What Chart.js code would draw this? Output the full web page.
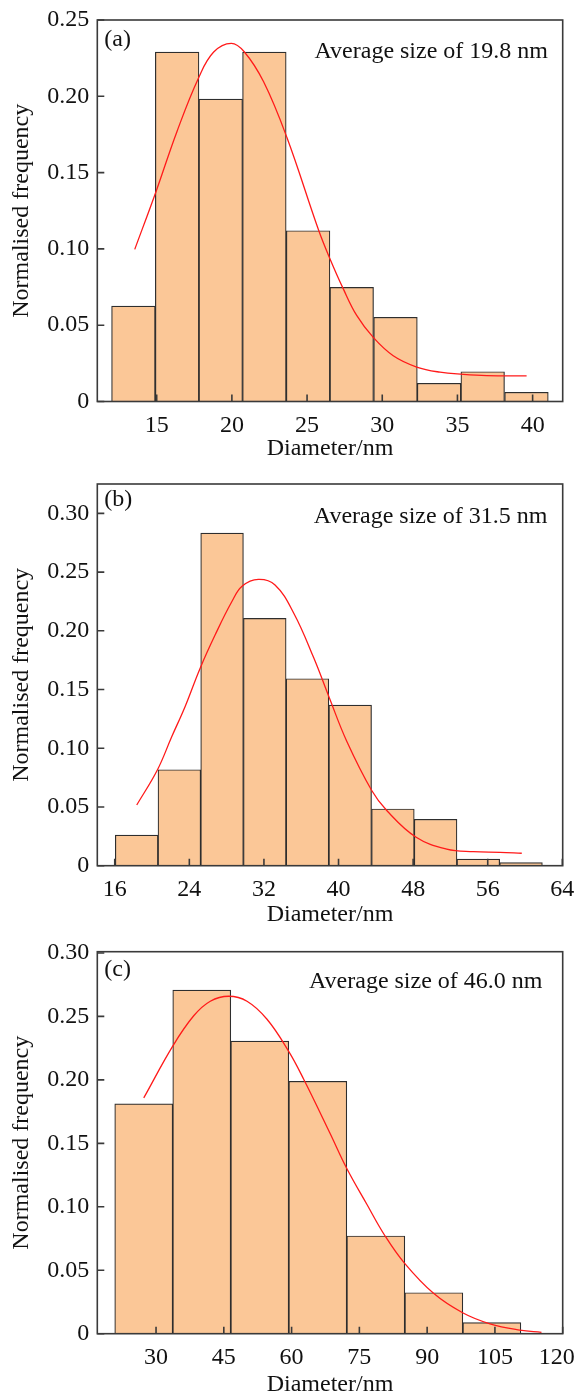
<!DOCTYPE html>
<html>
<head>
<meta charset="utf-8">
<script src="https://cdn.jsdelivr.net/npm/chart.js@4.4.1/dist/chart.umd.min.js"></script>
<style>
html,body{margin:0;padding:0;background:#ffffff;}
#wrap{position:relative;width:576px;height:1394px;overflow:hidden;}
canvas{position:absolute;left:0;}
</style>
</head>
<body>
<div id="wrap">
<canvas id="ca" width="576" height="465" style="top:0px"></canvas>
<canvas id="cb" width="576" height="465" style="top:465px"></canvas>
<canvas id="cc" width="576" height="464" style="top:930px"></canvas>
</div>
<script>
// ---------- texts ----------
const panelLabels = ['(a)', '(b)', '(c)'];
const avgTexts = ['Average size of 19.8 nm', 'Average size of 31.5 nm', 'Average size of 46.0 nm'];
const xTitle = 'Diameter/nm';
const yTitle = 'Normalised frequency';

// ---------- panel (a) ----------
const binCentersA = [13.45, 16.36, 19.26, 22.16, 25.07, 27.97, 30.88, 33.78, 36.68, 39.59];
const freqA = [0.0625, 0.2290, 0.1982, 0.2290, 0.1119, 0.0748, 0.0552, 0.0119, 0.0195, 0.0060];
const fitXA = [13.54, 14.97, 16.35, 17.79, 18.79, 19.96, 20.82, 22.11, 23.66, 25.77, 26.52, 27.41, 28.30, 29.40, 30.73, 32.29, 33.84, 35.39, 36.94, 39.60];
const fitYA = [0.0997, 0.1380, 0.1770, 0.2122, 0.2290, 0.2347, 0.2292, 0.2095, 0.1730, 0.1122, 0.0936, 0.0738, 0.0564, 0.0420, 0.0300, 0.0226, 0.0192, 0.0178, 0.0170, 0.0168];
const xTicksA = [15, 20, 25, 30, 35, 40];

// ---------- panel (b) ----------
const binCentersB = [18.35, 22.93, 27.51, 32.09, 36.67, 41.25, 45.83, 50.41, 54.99, 59.57];
const freqB = [0.0261, 0.0817, 0.2832, 0.2106, 0.1592, 0.1368, 0.0483, 0.0395, 0.0057, 0.0026];
const fitXB = [18.36, 20.57, 22.11, 23.54, 25.15, 26.76, 28.55, 29.68, 31.40, 33.19, 35.20, 37.34, 39.01, 40.88, 43.56, 45.17, 48.28, 51.60, 54.46, 57.32, 59.65];
const fitYB = [0.0517, 0.0815, 0.1098, 0.1354, 0.1680, 0.1964, 0.2247, 0.2381, 0.2438, 0.2390, 0.2150, 0.1770, 0.1430, 0.1060, 0.0640, 0.0470, 0.0245, 0.0142, 0.0119, 0.0114, 0.0106];
const xTicksB = [16, 24, 32, 40, 48, 56, 64];

// ---------- panel (c) ----------
const binCentersC = [27.28, 40.12, 52.96, 65.80, 78.64, 91.48, 104.32];
const freqC = [0.1811, 0.2707, 0.2305, 0.1989, 0.0770, 0.0323, 0.0087];
const fitXC = [27.28, 33.76, 38.34, 42.01, 46.08, 50.13, 54.56, 59.36, 62.68, 68.50, 72.19, 76.62, 80.66, 84.93, 91.35, 97.85, 103.9, 110.5, 115.3];
const fitYC = [0.1858, 0.2270, 0.2505, 0.2620, 0.2659, 0.2620, 0.2478, 0.2225, 0.2005, 0.1580, 0.1304, 0.1022, 0.0772, 0.0558, 0.0320, 0.0165, 0.0078, 0.0028, 0.0010];
const xTicksC = [30, 45, 60, 75, 90, 105, 120];

const yTicks = [0, 0.05, 0.10, 0.15, 0.20, 0.25, 0.30];

// ---------- styling ----------
const FONT = 'Liberation Serif, Times New Roman, serif';
const TXT = '#111111';
Chart.defaults.font.family = FONT;
Chart.defaults.font.size = 24;
Chart.defaults.color = TXT;

const framePlugin = {
  id: 'frame',
  afterDatasetsDraw(chart, args, o) {
    const ctx = chart.ctx;
    const a = chart.chartArea;
    ctx.save();
    ctx.strokeStyle = '#3a3a3a';
    ctx.lineWidth = 1.6;
    const xs = chart.scales.x, ys = chart.scales.y;
    ctx.beginPath();
    xs.ticks.forEach(t => {
      const px = xs.getPixelForValue(t.value);
      ctx.moveTo(px, a.bottom);
      ctx.lineTo(px, a.bottom - 7);
    });
    ys.ticks.forEach(t => {
      const py = ys.getPixelForValue(t.value);
      ctx.moveTo(a.left, py);
      ctx.lineTo(a.left + 7, py);
    });
    ctx.stroke();
    ctx.strokeRect(a.left, a.top, a.right - a.left, a.bottom - a.top);
    ctx.fillStyle = TXT;
    ctx.font = '24px ' + FONT;
    ctx.textBaseline = 'alphabetic';
    ctx.textAlign = 'left';
    ctx.fillText(o.label, a.left + 7, a.top + o.labelDy);
    ctx.textAlign = 'right';
    ctx.fillText(o.avg, o.avgRight, a.top + o.avgDy);
    ctx.restore();
  }
};

function makeChart(id, cfg) {
  new Chart(document.getElementById(id), {
    type: 'bar',
    data: {
      datasets: [
        {
          type: 'line',
          data: cfg.fitX.map((x, i) => ({x: x, y: cfg.fitY[i]})),
          borderColor: '#ff1a1a',
          borderWidth: 1.3,
          pointRadius: 0,
          fill: false,
          tension: 0.4,
          order: 0
        },
        {
          type: 'bar',
          data: cfg.centers.map((x, i) => ({x: x, y: cfg.freq[i]})),
          backgroundColor: '#fbc797',
          borderColor: '#2e2e2e',
          borderWidth: 1.2,
          barPercentage: 1,
          categoryPercentage: 1,
          order: 1
        }
      ]
    },
    options: {
      responsive: false,
      animation: false,
      devicePixelRatio: 1,
      layout: {padding: {top: cfg.padTop, right: 13.3, left: 0, bottom: 0}},
      plugins: {
        legend: {display: false},
        tooltip: {enabled: false},
        frame: {label: cfg.label, avg: cfg.avg, labelDy: cfg.labelDy, avgDy: cfg.avgDy, avgRight: cfg.avgRight}
      },
      scales: {
        x: {
          type: 'linear',
          min: cfg.xmin, max: cfg.xmax,
          offset: false,
          grid: {display: false, drawTicks: false},
          border: {display: false},
          afterBuildTicks: s => { s.ticks = cfg.xTicks.map(v => ({value: v})); },
          ticks: {padding: 10, maxRotation: 0, autoSkip: false, color: TXT, font: {size: 24},
                  callback: v => (v === cfg.xmax && v >= 100 ? String(v) + '\u2002' : String(v))},
          title: {display: true, text: xTitle, color: TXT, font: {size: 24}, padding: {top: 0, bottom: cfg.xTitlePad}},
          afterFit: s => { s.height = cfg.xH; s.paddingLeft = 0; s.paddingRight = 0; }
        },
        y: {
          min: 0, max: cfg.ymax,
          grid: {display: false, drawTicks: false},
          border: {display: false},
          afterBuildTicks: s => { s.ticks = yTicks.filter(v => v <= cfg.ymax + 1e-9).map(v => ({value: v})); },
          ticks: {padding: 8, color: TXT, font: {size: 24},
                  callback: v => (v === 0 ? '0' : Number(v).toFixed(2))},
          title: {display: true, text: yTitle, color: TXT, font: {size: 24}, padding: {top: 7, bottom: 0}},
          afterFit: s => { s.width = 97.3; s.paddingTop = 0; s.paddingBottom = 0; }
        }
      }
    },
    plugins: [framePlugin]
  });
}

makeChart('ca', {centers: binCentersA, freq: freqA, fitX: fitXA, fitY: fitYA, xTicks: xTicksA,
  xmin: 11.05, xmax: 42, ymax: 0.25, padTop: 20, xH: 63.5, xTitlePad: 2,
  label: panelLabels[0], avg: avgTexts[0], labelDy: 26.4, avgDy: 37.5, avgRight: 548});
makeChart('cb', {centers: binCentersB, freq: freqB, fitX: fitXB, fitY: fitYB, xTicks: xTicksB,
  xmin: 14.13, xmax: 64.04, ymax: 0.325, padTop: 19, xH: 64.3, xTitlePad: 0.6,
  label: panelLabels[1], avg: avgTexts[1], labelDy: 22.4, avgDy: 38.7, avgRight: 547.3});
makeChart('cc', {centers: binCentersC, freq: freqC, fitX: fitXC, fitY: fitYC, xTicks: xTicksC,
  xmin: 17.0, xmax: 120, ymax: 0.301, padTop: 21.7, xH: 60.3, xTitlePad: -5,
  label: panelLabels[2], avg: avgTexts[2], labelDy: 24.7, avgDy: 36.6, avgRight: 542.5});
</script>
</body>
</html>
